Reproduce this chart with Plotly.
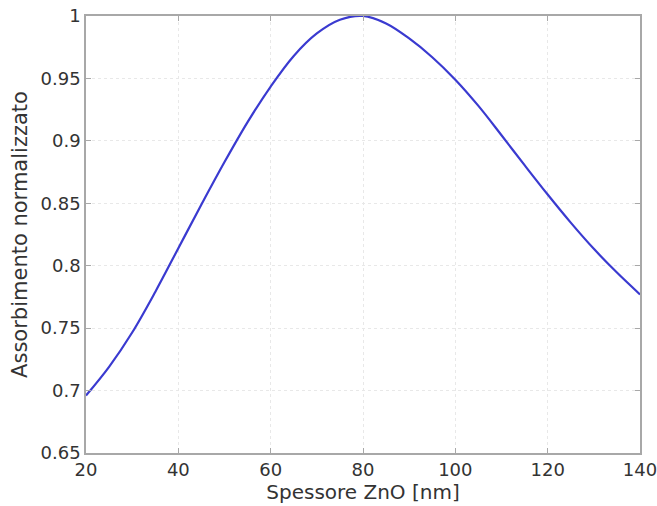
import plotly.graph_objects as go

thickness_nm = [20, 25, 30, 35, 40, 45, 50, 55, 60, 65, 70, 75, 80, 85, 90, 95,
                100, 105, 110, 115, 120, 125, 130, 135, 140]
absorption_norm = [0.696, 0.719, 0.7465, 0.779, 0.814, 0.849, 0.883, 0.915, 0.9435,
                   0.968, 0.986, 0.997, 1.000, 0.994, 0.982, 0.967, 0.949, 0.928,
                   0.9045, 0.8805, 0.857, 0.8345, 0.8135, 0.7945, 0.777]

x_ticks = [20, 40, 60, 80, 100, 120, 140]
y_ticks = [0.65, 0.7, 0.75, 0.8, 0.85, 0.9, 0.95, 1]
y_tick_text = ["0.65", "0.7", "0.75", "0.8", "0.85", "0.9", "0.95", "1"]

fig = go.Figure()
fig.add_trace(go.Scatter(x=thickness_nm, y=absorption_norm, mode="lines",
                         line=dict(color="#3a3ad0", width=2.2, shape="spline", smoothing=1.0),
                         showlegend=False))

axis_common = dict(showline=True, linecolor="#a8a8a8", linewidth=1.5, mirror="ticks",
                   ticks="inside", ticklen=5, tickcolor="#a8a8a8",
                   showgrid=True, gridcolor="#e8e8e8", griddash="dot", gridwidth=1,
                   zeroline=False, automargin=False, ticklabeloverflow="allow",
                   tickfont=dict(size=18, color="#333333"))

fig.update_xaxes(range=[20, 140], tickvals=x_ticks,
                 title=dict(text="Spessore ZnO [nm]", font=dict(size=20, color="#333333"), standoff=2),
                 **axis_common)
fig.update_yaxes(range=[0.65, 1], tickvals=y_ticks, ticktext=y_tick_text,
                 title=dict(text="Assorbimento normalizzato", font=dict(size=21, color="#333333"), standoff=7),
                 **axis_common)

fig.update_layout(width=657, height=506, paper_bgcolor="white", plot_bgcolor="white",
                  margin=dict(l=86, r=17, t=16, b=53),
                  font=dict(family="DejaVu Sans", color="#333333"))

fig.write_html("out.html", config={"displayModeBar": False},
               post_script="document.body.style.margin='0';document.body.style.overflow='hidden';")
